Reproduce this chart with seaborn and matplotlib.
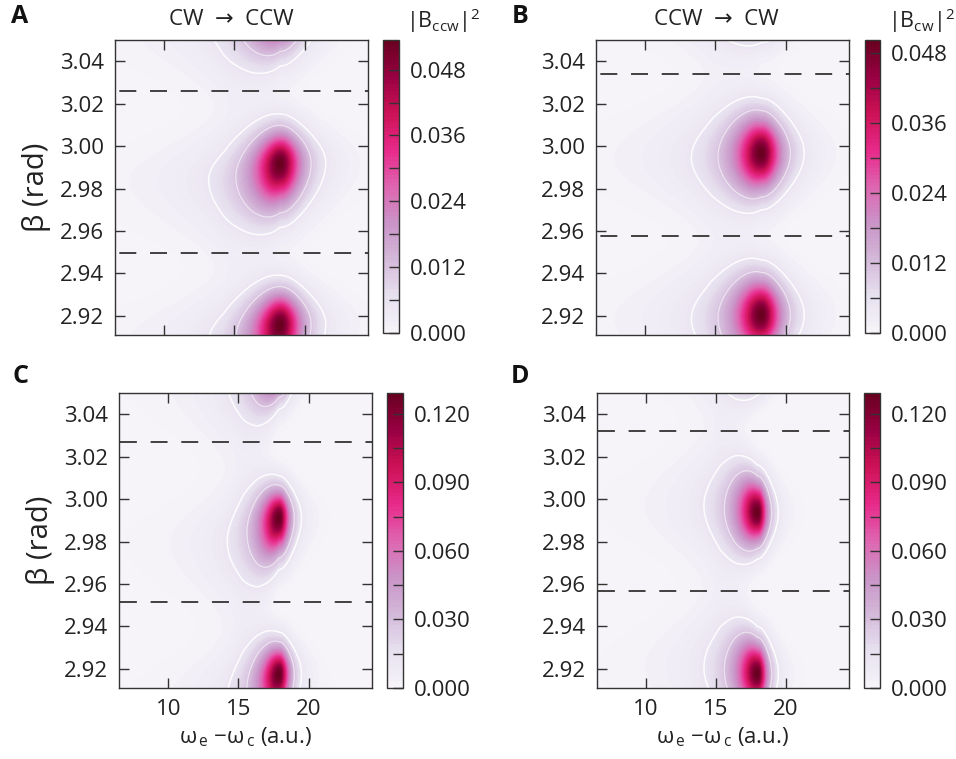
import numpy as np
import matplotlib
matplotlib.use("Agg")
import matplotlib.pyplot as plt
import seaborn as sns

sns.set_theme(style="ticks")
plt.rcParams["font.family"] = ["Open Sans", "DejaVu Sans"]
plt.rcParams["axes.axisbelow"] = False
plt.rcParams["mathtext.fontset"] = "custom"
plt.rcParams["mathtext.rm"] = "Open Sans"
plt.rcParams["mathtext.it"] = "Open Sans:italic"
plt.rcParams["mathtext.bf"] = "Open Sans:bold"

# ---- panel text ----
panel_letters = ["A", "B", "C", "D"]
panel_titles = ["CW  \u2192  CCW", "CCW  \u2192  CW", None, None]
cbar_titles = ["|B$_{\\mathregular{ccw}}$|$^{\\mathregular{2}}$",
               "|B$_{\\mathregular{cw}}$|$^{\\mathregular{2}}$", None, None]

# ---- axes ranges / ticks ----
omega_range = (6.5, 24.5)
beta_range = (2.911, 3.050)
omega_ticks = [10, 15, 20]
beta_ticks = [2.92, 2.94, 2.96, 2.98, 3.00, 3.02, 3.04]

# ---- intensity maxima (lobes repeat along beta) ----
peak_values = [0.0534, 0.0503, 0.129, 0.129]
peak_omega = [18.25, 18.26, 17.88, 17.96]
peak_beta_A = [2.916, 2.992, 3.068]
peak_beta_B = [2.9205, 2.9967, 3.0755]
peak_beta_C = [2.9176, 2.9913, 3.067]
peak_beta_D = [2.9176, 2.9937, 3.0710]
peak_beta = [peak_beta_A, peak_beta_B, peak_beta_C, peak_beta_D]

# lobe widths: omega below / above the peak, beta above / below the peak
sigma_left = [1.73, 1.69, 1.25, 1.3]
sigma_right = [1.72, 1.62, 0.85, 0.79]
sigma_up = [0.0105, 0.0118, 0.0090, 0.0102]
sigma_down = [0.0138, 0.0122, 0.0112, 0.0100]
# drift of the lobe centre in beta per unit of omega on the low side
lobe_tilt = [0.0020, 0.0005, 0.0030, -0.0008]
# widening in beta towards low omega
lobe_spread = [0.2, 0.2, 0.4, 0.4]
# each lobe: a bright core sitting on a wider skirt
core_weight = 0.4
core_scale = 0.68
skirt_scale = 1.15

# contour lines, as fractions of the maximum
contour_fracs = [0.10, 0.22]

# ---- separatrices (dashed) ----
dash_beta = [[2.9495, 3.0261], [2.9576, 3.0339], [2.9517, 3.027], [2.9569, 3.032]]
dash_offset = [14.6, 14.6, 16.5, 16.5]

# ---- colour bar ticks ----
cbar_step = [0.006, 0.006, 0.015, 0.015]

# axes boxes in figure fraction: [left, bottom, width, height]
ax_boxes = [[0.1203, 0.5586, 0.2646, 0.3887],
            [0.6234, 0.5586, 0.2646, 0.3887],
            [0.1245, 0.0935, 0.2646, 0.3887],
            [0.6245, 0.0935, 0.2636, 0.3887]]
cax_boxes = [[0.4006, 0.5613, 0.0167, 0.3860],
             [0.9048, 0.5613, 0.0157, 0.3860],
             [0.4048, 0.0935, 0.0167, 0.3887],
             [0.9038, 0.0935, 0.0167, 0.3887]]
title_x = [0.46, 0.475]
cbar_title_x = [0.4635, 0.9640]

cmap = sns.color_palette("PuRd", as_cmap=True)
edge = "#333333"
ink = "#222222"


def lobe(dx, dy, i, scale):
    left = np.clip(-dx, 0, None)
    sl = sigma_left[i] * scale
    gx = np.where(dx < 0,
                  1.0 / (1.0 + (dx / sl) ** 2),
                  (1.0 + (dx / (sigma_right[i] * scale)) ** 2) ** -1.5)
    sy = np.where(dy > 0, sigma_up[i], sigma_down[i]) * scale
    sy = sy * (1.0 + lobe_spread[i] * np.clip(left / sl, 0, 1.8))
    return gx * np.exp(-0.5 * (dy / sy) ** 2)


def intensity(O, Bt, i):
    Z = np.zeros_like(O)
    for y0 in peak_beta[i]:
        dx = O - peak_omega[i]
        left = np.clip(-dx, 0, 4.0)
        dy = Bt - (y0 - lobe_tilt[i] * left)
        Z += (core_weight * lobe(dx, dy, i, core_scale)
              + (1 - core_weight) * lobe(dx, dy, i, skirt_scale))
    return Z / Z.max() * peak_values[i]


fig = plt.figure(figsize=(9.56, 7.59), dpi=100)
omega = np.linspace(*omega_range, 500)
beta = np.linspace(*beta_range, 500)
O, Bt = np.meshgrid(omega, beta)

tick_fs = 16
for i in range(4):
    ax = fig.add_axes(ax_boxes[i])
    Z = intensity(O, Bt, i)
    vmax = peak_values[i]
    levels = np.linspace(0, vmax, 81)
    cf = ax.contourf(O, Bt, Z, levels=levels, cmap=cmap, vmin=0, vmax=vmax)
    ax.contour(O, Bt, Z, levels=[contour_fracs[0] * vmax], colors="white",
               linewidths=1.1, alpha=0.9)
    ax.contour(O, Bt, Z, levels=[contour_fracs[1] * vmax], colors="white",
               linewidths=0.9, alpha=0.55)
    for yb in dash_beta[i]:
        ax.axhline(yb, color=edge, lw=1.3, linestyle=(dash_offset[i], (9.4, 7.6)))

    ax.set_xlim(*omega_range)
    ax.set_ylim(*beta_range)
    ax.set_xticks(omega_ticks)
    ax.set_yticks(beta_ticks)
    ax.set_yticklabels([f"{v:.2f}" for v in beta_ticks])
    ax.tick_params(direction="in", top=True, right=True, length=7, width=1,
                   color=edge, labelsize=tick_fs, labelcolor=ink, pad=8)
    for s in ax.spines.values():
        s.set_color(edge)
        s.set_linewidth(1.0)
    if i < 2:
        ax.tick_params(labelbottom=False)
    else:
        ax.set_xlabel(r"$\mathregular{\omega_{\,e}}$ $-$$\mathregular{\omega_{\,c}}$ (a.u.)",
                      fontsize=16, labelpad=4, color=ink)
    if i % 2 == 0:
        ax.set_ylabel("\u03b2 (rad)", fontsize=21, labelpad=6, color=ink)
    if panel_titles[i]:
        ax.set_title(panel_titles[i], fontsize=16, pad=11, color=ink, x=title_x[i])

    cax = fig.add_axes(cax_boxes[i])
    cb = fig.colorbar(cf, cax=cax)
    ticks = np.arange(0, vmax + 1e-9, cbar_step[i])
    cb.set_ticks(ticks)
    cb.set_ticklabels([f"{v:.3f}" if k % 2 == 0 else "" for k, v in enumerate(ticks)])
    cax.tick_params(direction="in", length=7, width=1, color=edge,
                    labelsize=tick_fs, labelcolor=ink, pad=8)
    cb.outline.set_edgecolor(edge)
    cb.outline.set_linewidth(1.0)
    if cbar_titles[i]:
        fig.text(cbar_title_x[i], 0.973, cbar_titles[i], fontsize=15.5,
                 ha="center", va="center", color=ink)

# panel letters
letter_pos = [(0.021, 0.978), (0.544, 0.978), (0.021, 0.504), (0.544, 0.504)]
for letter, (lx, ly) in zip(panel_letters, letter_pos):
    fig.text(lx, ly, letter, fontsize=18, fontweight="bold", ha="center", va="center",
             color="#111111")

fig.savefig("out.png", dpi=100)
